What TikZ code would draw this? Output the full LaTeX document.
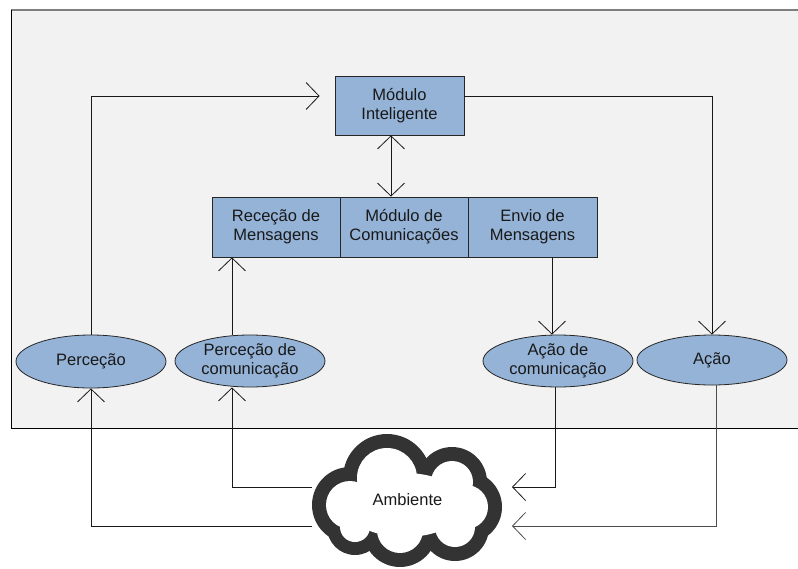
\documentclass[tikz,border=0pt]{standalone}
\usepackage{fontspec}
\setmainfont{Liberation Sans}
\usetikzlibrary{arrows.meta,shapes.geometric}
\definecolor{boxblue}{HTML}{95B3D7}
\definecolor{panel}{HTML}{F2F2F2}
\definecolor{edgegray}{HTML}{7F7F7F}
\definecolor{cloudgray}{HTML}{333333}
\tikzset{
  txt/.style={font=\fontsize{16.5}{19}\selectfont, align=center, text=black!90},
  modbox/.style={txt, rectangle, draw=black!85, line width=0.8pt, fill=boxblue, inner sep=0pt},
  oval/.style={txt, ellipse, draw=black!85, line width=0.8pt, fill=boxblue, inner sep=0pt,
    minimum width=150pt, minimum height=52pt},
  link/.style={line width=0.8pt, draw=black!90},
  arr/.style={link, -{Straight Barb[length=13pt, width=27pt, line width=0.8pt]}},
  darr/.style={link, {Straight Barb[length=13pt, width=27pt, line width=0.8pt]}-{Straight Barb[length=13pt, width=27pt, line width=0.8pt]}},
}
% cloud lobes: centre x, centre y, outer radius, inner radius
\newcommand{\cloudlobes}{350/505/38/24, 387/478/44/30, 452/482/35/21, 466/507/36/22, 455/527/34/20, 400/530/37/23, 355/527/28/15}
\begin{document}
\begin{tikzpicture}[x=1pt, y=-1pt]
\useasboundingbox (0,0) rectangle (798,568);

% agent panel
\fill[panel] (11,10) rectangle (800,428);
\draw[edgegray, line width=1.4pt] (11,10) -- (800,10);
\draw[black, line width=0.9pt] (800,428) -- (11,428) -- (11,10);

% modules
\node[modbox, minimum width=129pt, minimum height=59pt] (mi) at (399.5,105.5) {Módulo\\Inteligente};
\node[modbox, minimum width=128pt, minimum height=60pt] (rc) at (276,227) {Receção de\\Mensagens};
\node[modbox, minimum width=128pt, minimum height=60pt] (mc) at (404,227) {Módulo de\\Comunicações};
\node[modbox, minimum width=129pt, minimum height=60pt] (em) at (532.5,227) {Envio de\\Mensagens};

% sensors and actuators
\node[oval, minimum height=53pt] (pe) at (91,361.5) {Perceção};
\node[oval] (pc) at (250,361) {Perceção de\\comunicação};
\node[oval] (ac) at (558,361) {Ação de\\comunicação};
\node[oval, minimum height=50pt] (ap) at (712,360) {Ação};

% environment: union of lobes, dark rim then white interior
\foreach \lx/\ly/\lo/\li in \cloudlobes
  \fill[cloudgray] (\lx pt,-\ly pt) circle (\lo pt);
\foreach \lx/\ly/\lo/\li in \cloudlobes
  \fill[white] (\lx pt,-\ly pt) circle (\li pt);
\fill[white] (405pt,-505pt) ellipse (60pt and 32pt);
\node[txt] (amb) at (407.5,500) {Ambiente};
\coordinate (ambInA) at (312,487);
\coordinate (ambInB) at (312,526);
\coordinate (ambOutA) at (512,487);
\coordinate (ambOutB) at (512,526);

% internal links
\draw[arr, shorten >=15pt] (pe.north) |- (mi.west |- 0,96);
\draw[arr] (mi.east |- 0,96) -| (ap.north);
\draw[darr] (mc.north -| 391,0) -- (mi.south -| 391,0);
\draw[arr] (pc.north -| 232,0) -- (rc.south -| 232,0);
\draw[arr] (em.south -| 552,0) -- (ac.north -| 552,0);

% links with the environment
\draw[arr] (ambInB) -| (pe.south);
\draw[arr] (ambInA) -| (pc.south -| 232,0);
\draw[arr] (ac.south -| 555,0) |- (ambOutA);
\draw[arr, draw=black!70] (ap.south -| 716,0) |- (ambOutB);
\end{tikzpicture}
\end{document}
